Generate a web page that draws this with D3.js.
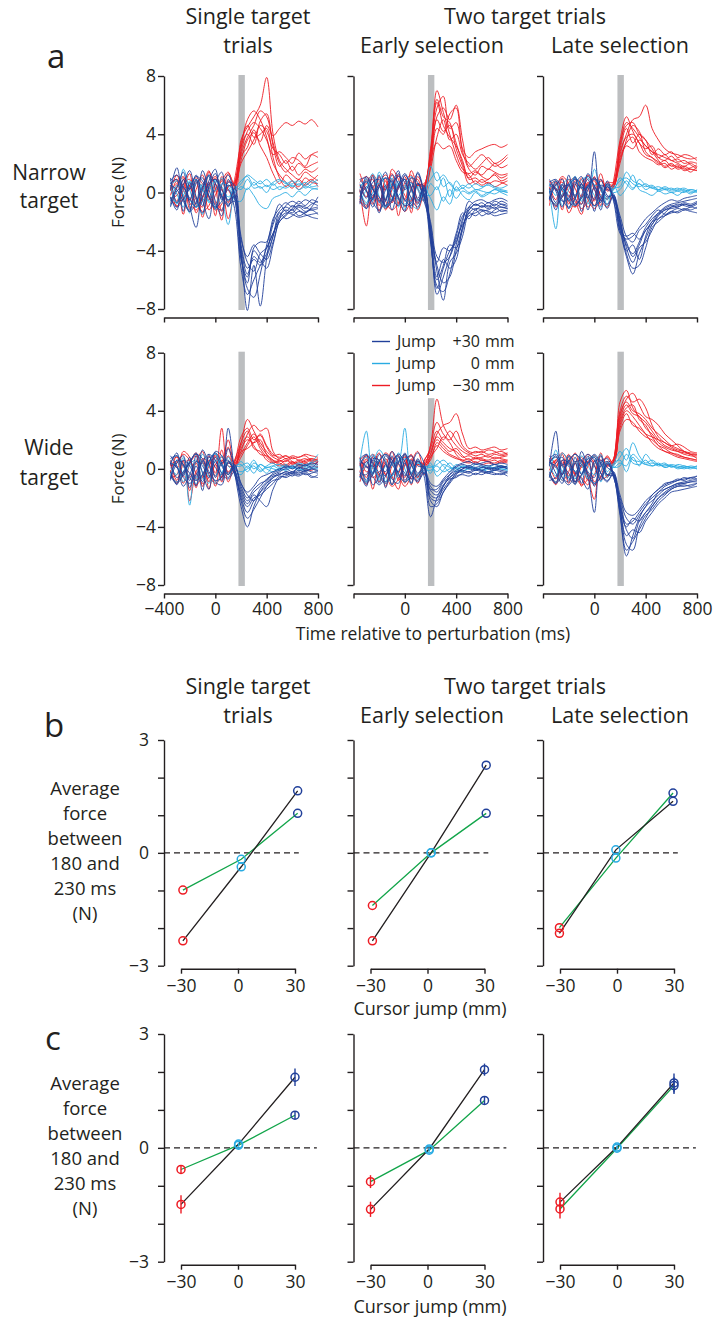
<!DOCTYPE html>
<html>
<head>
<meta charset="utf-8">
<script src="https://cdn.jsdelivr.net/npm/d3@7"></script>
<style>
  body { margin: 0; background: #fff; }
  svg text { font-family: "Open Sans", "Noto Sans", sans-serif; fill: #231f20; }
  .axis path, .axis line { stroke: #231f20; stroke-width: 1.4; }
  .axis text { font-family: "Open Sans", sans-serif; fill: #231f20; }
</style>
</head>
<body>
<svg id="fig" width="713" height="1326"></svg>
<script>
// ---- data: force traces (N), sampled every 50 ms ----
const timeMs = [-350,-300,-250,-200,-150,-100,-50,0,50,100,150,200,250,300,350,400,450,500,550,600,650,700,750,800];
const forceTicks = [-8, -4, 0, 4, 8];
const timeTicks = [-400, 0, 400, 800];
const gateWindow = [180, 230];
const gateTop = [8, 8, 8, 8, 4.8, 8];   // legend hides the top of one bar

// narrow target, single target trials
const nsMinus = [
  [0.3,-0.6,0.9,-1.1,0.2,1.2,-0.5,0.6,-1.3,0.4,0.6,3.6,4.5,5.2,6.0,7.9,4.0,2.2,1.6,1.2,0.9,1.4,1.1,0.8],
  [-0.2,0.8,-1.5,0.5,-0.9,0.3,1.5,-0.8,0.2,-1.8,0.5,2.8,4.2,4.8,4.4,3.6,2.6,2.8,2.4,2.0,2.7,2.3,2.6,2.4],
  [0.5,-1.0,0.2,1.3,-1.4,-0.3,0.7,-1.6,1.1,0.2,-0.4,3.0,5.0,5.6,5.0,3.8,2.0,1.2,0.7,0.3,0.9,0.5,0.8,1.2],
  [-0.8,0.4,1.1,-0.6,0.9,-1.7,0.2,1.0,-0.4,1.3,0.6,2.2,3.6,4.1,3.5,4.6,3.9,4.4,4.8,4.6,4.9,4.7,5.0,4.5],
  [0.1,1.2,-0.4,-1.3,0.7,0.4,-1.2,-0.2,0.9,-0.7,0.9,3.2,4.0,3.3,4.9,5.4,3.2,1.8,2.2,1.5,2.0,1.7,1.9,2.1],
  [-0.4,-0.2,0.6,0.9,-0.3,-1.0,1.4,0.3,-1.9,0.8,0.2,2.5,3.1,4.3,3.2,2.4,1.3,0.6,1.2,0.8,0.4,1.0,0.7,0.6],
  [0.6,0.9,0.2,-0.7,-1.2,-0.4,0.5,1.1,0.3,-0.6,0.3,2.6,3.8,4.6,5.6,5.2,3.4,2.0,1.4,1.8,1.2,1.6,1.4,1.7],
  [-0.3,-0.9,-0.4,0.5,1.0,0.6,-0.3,-1.2,-0.8,0.4,0.7,3.4,4.6,3.8,4.0,4.4,2.4,1.0,0.4,0.8,0.2,0.6,0.9,0.4],
  [0.2,0.6,1.0,0.4,-0.5,-1.3,-0.9,0.2,0.8,1.4,0.4,2.0,2.8,3.6,4.6,4.2,3.0,2.6,2.0,2.4,2.2,1.8,2.6,2.8]
];
const nsZero = [
  [0.4,-0.8,1.6,0.2,-1.0,0.6,-0.7,0.9,-0.3,-2.2,0.1,0.8,1.1,0.5,0.8,0.4,0.7,0.9,0.6,0.8,0.5,0.7,0.4,0.5],
  [-0.9,0.5,-0.2,-1.4,0.8,0.1,1.2,-1.2,0.6,0.4,-0.5,-0.6,0.3,-0.2,-0.9,-1.1,-0.4,-0.2,0.0,-0.3,0.1,-0.2,0.2,0.3],
  [0.7,-0.1,-1.0,0.8,-0.4,-1.5,0.3,0.1,1.0,-0.6,0.4,0.2,0.9,0.3,0.4,0.0,0.6,0.2,0.5,0.6,0.8,0.3,0.6,0.9],
  [0.5,0.8,0.1,-0.5,-1.0,-0.6,0.3,0.8,0.4,-0.3,0.2,0.6,1.2,0.9,0.6,0.9,0.5,0.8,0.7,0.4,0.6,0.5,0.8,0.6],
  [-0.3,-0.7,-0.2,0.6,0.9,0.2,-0.6,-1.0,-0.2,0.5,0.0,0.4,0.2,0.7,0.3,0.5,0.2,0.4,0.3,0.5,0.2,0.4,0.3,0.2]
];
const nsPlus = [
  [0.2,1.7,-0.4,-1.2,0.6,1.0,-0.3,-1.1,0.5,1.2,-0.4,-4.0,-8.1,-5.0,-7.8,-4.5,-2.2,-1.3,-1.0,-1.2,-0.9,-1.1,-0.8,-0.6],
  [-0.6,0.3,1.4,-0.9,-2.4,0.2,1.1,-0.6,-1.6,0.7,0.5,-3.8,-5.6,-4.4,-4.8,-3.8,-2.8,-1.8,-1.4,-1.5,-1.7,-1.6,-1.5,-1.4],
  [1.0,-0.7,0.5,1.5,-0.3,-1.4,0.4,1.3,-0.2,-0.8,-0.6,-4.2,-6.6,-7.2,-5.6,-3.6,-2.0,-0.8,-1.3,-0.9,-1.2,-1.4,-1.0,-0.3],
  [-0.3,-1.2,0.9,0.2,1.2,-0.5,-1.8,0.6,1.4,-1.0,0.3,-3.2,-4.4,-3.6,-4.2,-4.6,-3.4,-2.0,-1.6,-1.1,-0.9,-1.0,-1.2,-1.1],
  [0.6,0.9,-1.3,0.7,-0.8,1.5,0.2,-0.9,-1.2,0.9,-0.2,-4.6,-5.8,-3.8,-3.4,-3.4,-1.8,-1.1,-0.7,-1.0,-0.6,-0.9,-0.5,-0.7],
  [-1.0,0.1,0.4,-0.5,0.9,-0.9,0.8,1.6,-0.5,0.2,-1.1,-5.2,-7.0,-6.0,-5.0,-4.2,-3.0,-1.4,-1.8,-1.6,-1.3,-1.5,-1.7,-1.8],
  [0.5,0.2,-0.6,-1.3,-0.7,0.4,1.2,0.6,-0.3,-0.9,-0.2,-3.6,-5.2,-4.6,-5.0,-4.4,-3.0,-1.6,-1.2,-1.4,-1.0,-1.3,-1.1,-1.0],
  [-0.4,-1.0,-0.5,0.3,1.1,0.8,-0.2,-1.0,-0.6,0.5,0.0,-3.0,-4.8,-5.4,-4.2,-3.8,-2.8,-2.0,-1.5,-1.2,-1.6,-1.4,-1.2,-1.5],
  [0.8,1.2,0.4,-0.4,-1.0,-0.3,0.6,0.9,0.2,-0.5,-0.3,-4.4,-6.2,-4.0,-4.6,-5.2,-3.6,-1.8,-0.9,-0.6,-0.8,-0.5,-0.7,-0.9]
];

// narrow target, early selection
const neMinus = [
  [0.5,-0.3,1.2,-0.6,0.4,1.3,-0.8,0.7,1.2,-0.5,0.2,2.5,7.0,5.5,4.0,2.6,1.6,1.3,1.5,1.2,1.6,1.4,1.2,1.3],
  [-0.7,0.9,-0.4,1.1,-1.2,0.2,1.2,-1.0,0.3,0.9,-0.3,2.0,5.2,5.8,5.0,6.0,3.6,1.8,2.2,2.6,2.2,1.8,2.0,2.4],
  [0.2,-2.3,0.5,-0.9,1.0,-0.7,0.3,1.1,-1.4,0.5,0.6,2.8,6.2,4.6,3.8,3.2,2.2,0.9,1.0,0.7,0.9,1.2,0.8,1.0],
  [1.3,0.1,-0.8,0.6,0.2,0.9,-1.6,0.4,0.8,-1.2,0.1,1.8,4.4,4.0,5.4,5.8,3.0,2.4,2.8,3.0,3.2,3.3,3.1,3.3],
  [-0.4,0.6,0.9,-1.3,0.8,-0.3,0.5,-0.5,1.5,0.3,-0.6,2.2,3.4,3.0,3.2,2.2,1.4,1.2,0.6,0.9,0.6,0.8,0.7,0.5],
  [0.1,-0.9,0.3,0.8,-0.5,1.6,0.9,-0.2,-0.6,1.1,0.4,2.6,5.8,6.6,4.4,4.8,2.8,1.6,1.2,1.8,1.6,2.0,1.7,1.9],
  [0.7,1.1,0.3,-0.5,-1.1,-0.6,0.4,0.9,0.2,-0.7,0.3,2.4,5.0,4.2,4.6,3.4,2.0,1.0,1.4,1.1,0.9,1.3,1.0,1.2],
  [-0.5,-1.0,-0.3,0.6,1.2,0.5,-0.4,-1.3,-0.5,0.6,0.1,1.6,3.8,5.0,3.6,4.0,2.6,2.0,1.6,2.0,2.4,2.0,2.2,2.6],
  [0.3,0.7,1.2,0.5,-0.6,-1.2,-0.7,0.3,1.0,0.5,0.5,3.0,6.4,5.2,4.8,3.0,1.8,0.6,0.8,0.5,0.7,0.4,0.6,0.8]
];
const neZero = [
  [0.3,0.9,-0.6,1.4,0.4,-0.5,0.8,-1.2,0.6,0.3,-0.3,1.8,0.8,1.2,0.6,0.2,0.5,0.3,0.6,0.4,0.5,0.3,0.2,0.1],
  [-0.6,0.2,1.3,-0.3,-1.1,0.7,-0.2,0.5,-0.8,-1.1,0.3,-0.4,-1.2,-0.3,-0.8,0.4,-0.2,-0.5,0.0,-0.3,-0.1,0.2,0.0,-0.2],
  [0.1,-0.7,0.4,0.6,-0.4,1.0,-1.0,0.3,1.1,0.2,-0.6,0.6,0.2,1.0,-0.3,0.8,0.3,0.6,0.2,0.3,0.6,0.4,0.3,0.5],
  [0.4,0.7,0.2,-0.6,-1.0,-0.4,0.6,0.9,0.1,-0.5,0.1,0.9,1.4,0.4,0.7,0.1,0.3,0.0,0.2,0.1,0.0,0.2,0.1,0.0],
  [-0.5,-0.8,0.0,0.7,1.0,0.3,-0.5,-0.8,-0.4,0.4,-0.1,-0.2,0.4,-0.6,0.2,-0.4,0.1,-0.1,0.1,-0.2,0.0,-0.1,0.1,0.0]
];
const nePlus = [
  [-0.3,0.8,-0.5,1.2,-0.9,0.4,1.5,-0.6,0.2,1.3,-0.2,-2.8,-7.0,-5.8,-4.4,-3.0,-1.6,-1.2,-0.8,-1.0,-0.9,-1.1,-0.8,-0.9],
  [0.6,-0.4,1.1,-0.7,0.5,-1.2,0.3,0.9,-1.1,0.6,0.2,-2.4,-5.8,-4.6,-5.2,-4.6,-2.4,-1.4,-1.6,-1.3,-1.2,-1.0,-1.3,-1.2],
  [0.9,0.2,-1.0,0.4,1.4,-0.3,-0.9,1.2,0.4,-0.8,0.5,-3.0,-6.4,-6.8,-5.6,-3.6,-2.0,-0.6,-0.9,-0.7,-1.0,-0.6,-0.8,-1.0],
  [-0.8,1.1,0.3,-1.4,0.2,0.8,-0.4,-1.3,1.0,0.7,-0.6,-2.2,-4.8,-3.8,-4.0,-2.8,-1.4,-1.8,-1.2,-1.6,-1.4,-1.6,-1.5,-1.4],
  [0.2,-1.1,0.7,0.9,-0.6,1.2,0.6,-0.5,-0.9,1.4,0.0,-3.4,-6.0,-5.0,-3.6,-3.8,-2.6,-1.0,-0.6,-0.5,-0.7,-0.5,-0.4,-0.6],
  [-0.5,0.4,-0.2,0.5,-1.0,-0.6,1.3,0.2,0.7,-0.4,0.4,-2.6,-5.4,-7.4,-4.8,-4.2,-3.0,-1.4,-1.1,-1.2,-1.5,-1.2,-1.0,-1.1],
  [0.4,0.1,-0.7,-1.2,-0.5,0.5,1.1,0.7,-0.4,-1.0,-0.1,-3.2,-6.6,-5.2,-4.0,-3.4,-1.8,-1.0,-1.2,-0.9,-1.1,-0.8,-1.0,-1.1],
  [-0.6,-1.1,-0.4,0.4,1.0,0.7,-0.3,-0.9,-0.7,0.6,-0.3,-2.0,-4.4,-4.8,-4.4,-3.2,-2.2,-1.6,-1.4,-1.2,-1.3,-1.4,-1.2,-1.3],
  [0.9,1.0,0.2,-0.3,-0.9,-0.5,0.5,1.3,0.3,-0.6,0.3,-2.6,-5.0,-6.2,-5.8,-4.0,-2.4,-1.2,-0.8,-1.0,-0.7,-0.9,-0.6,-0.8]
];

// narrow target, late selection
const nlMinus = [
  [0.4,-0.5,1.0,-0.8,0.6,-0.3,0.7,-0.6,0.8,0.3,0.6,3.2,4.8,4.4,3.8,3.2,2.8,2.6,2.4,2.2,2.0,1.8,2.0,1.7],
  [-0.6,0.7,-0.3,0.4,-1.0,0.9,-0.4,1.1,-0.9,0.5,0.4,2.6,4.0,5.0,5.2,6.0,4.4,3.6,3.0,2.7,2.6,2.4,2.3,2.4],
  [0.2,0.3,-1.2,0.9,0.3,-0.8,1.2,0.2,-0.5,-1.0,0.8,3.6,5.2,4.2,3.4,3.0,3.2,2.4,2.2,2.5,2.1,2.2,1.9,1.6],
  [-0.2,-1.0,0.5,-0.3,0.8,0.4,-1.0,-0.4,1.3,0.1,0.5,2.4,3.4,3.8,2.8,2.4,2.2,1.9,2.0,1.6,1.8,1.5,1.6,1.5],
  [0.8,0.2,0.2,-1.4,-0.4,1.0,0.3,-0.9,0.2,0.7,0.7,3.0,4.4,3.4,4.0,3.6,2.6,3.0,2.6,2.8,2.4,2.6,2.5,2.2],
  [-0.9,0.6,0.7,0.1,-0.6,-1.5,0.5,0.8,-0.2,-0.4,0.3,2.0,3.6,4.6,4.2,2.8,2.4,2.1,1.7,1.9,1.6,1.7,1.4,1.8],
  [0.5,0.8,0.1,-0.6,-1.0,-0.3,0.6,1.0,0.2,-0.5,0.6,2.8,3.8,4.0,3.4,2.6,2.4,2.0,2.2,1.8,1.9,1.6,1.7,1.9],
  [-0.4,-0.8,-0.2,0.7,1.0,0.3,-0.5,-1.1,-0.4,0.6,0.5,3.4,4.6,4.8,4.0,3.6,3.0,2.4,2.6,2.2,2.3,2.0,2.1,2.0],
  [0.3,0.5,1.1,0.6,-0.4,-1.1,-0.6,0.4,0.9,0.2,0.4,2.2,3.2,3.0,3.6,3.2,2.8,2.2,1.8,2.0,1.7,1.8,1.6,1.5]
];
const nlZero = [
  [0.2,-2.5,0.5,0.9,-0.3,0.4,-0.8,1.6,0.2,-0.5,0.3,0.4,1.4,0.8,0.6,0.4,0.5,0.2,0.3,0.1,0.2,0.3,0.1,0.0],
  [-0.4,0.6,-0.9,0.2,1.1,-0.6,0.4,-0.2,-1.0,0.6,0.2,1.0,0.6,0.2,0.9,0.5,0.3,0.4,0.2,0.3,0.1,0.0,0.2,0.1],
  [0.6,-0.2,0.3,-1.1,-0.5,0.9,1.0,0.5,0.5,-0.9,0.5,-0.2,0.3,1.2,0.2,0.0,-0.2,0.1,-0.1,0.0,-0.2,0.1,-0.1,0.2],
  [0.4,0.8,0.2,-0.5,-0.9,-0.4,0.5,0.9,0.2,-0.4,0.2,0.8,1.0,0.6,0.4,0.6,0.3,0.2,0.4,0.2,0.3,0.1,0.2,0.1],
  [-0.4,-0.8,-0.1,0.6,1.0,0.4,-0.4,-0.9,-0.3,0.5,0.0,0.2,0.8,0.3,0.6,0.2,0.4,0.1,0.2,0.0,0.1,0.2,0.0,0.1]
];
const nlPlus = [
  [0.3,-0.7,0.6,-1.1,0.5,1.1,-0.4,2.8,-0.6,0.4,-0.3,-2.0,-3.6,-4.2,-3.4,-2.4,-1.8,-1.4,-1.0,-0.8,-0.7,-0.6,-0.5,-0.4],
  [-0.5,0.8,-0.3,0.6,-0.9,-0.2,1.3,0.3,-1.2,0.8,-0.5,-2.6,-4.4,-5.6,-4.2,-3.2,-2.2,-1.6,-1.2,-1.1,-1.0,-0.8,-0.9,-0.7],
  [0.9,0.1,-1.0,1.2,-0.4,-0.8,0.5,-0.5,0.9,-0.2,-0.4,-1.6,-3.0,-3.4,-2.6,-2.2,-1.6,-1.2,-1.5,-1.3,-1.4,-1.2,-1.3,-1.4],
  [-0.4,0.5,0.9,-0.6,1.1,-1.3,0.2,0.9,0.3,-1.1,-0.2,-2.2,-4.0,-3.6,-4.6,-3.0,-2.0,-1.8,-1.4,-1.0,-0.8,-0.9,-1.0,-0.8],
  [0.1,-1.2,0.3,0.5,-0.2,0.6,-1.2,0.4,-0.7,0.6,-0.6,-2.8,-3.2,-3.0,-2.4,-1.8,-1.4,-1.0,-0.7,-0.5,-0.6,-0.4,-0.3,-0.2],
  [0.6,0.3,-0.6,-0.4,0.7,0.3,0.9,-1.3,0.5,0.2,-0.1,-1.8,-3.8,-4.8,-3.8,-3.4,-2.6,-1.8,-1.6,-1.4,-1.3,-1.1,-1.2,-1.0],
  [0.5,0.2,-0.5,-1.0,-0.4,0.6,1.1,0.5,-0.3,-0.8,-0.3,-2.4,-3.4,-4.4,-3.6,-2.6,-2.2,-1.5,-1.2,-1.0,-0.9,-0.7,-0.8,-0.6],
  [-0.3,-0.9,-0.3,0.5,0.9,0.6,-0.2,-0.9,-0.5,0.4,-0.4,-2.0,-4.2,-5.2,-5.0,-3.8,-2.4,-2.0,-1.6,-1.3,-1.1,-1.2,-1.0,-1.1],
  [0.7,0.9,0.3,-0.2,-0.8,-0.4,0.4,1.0,0.4,-0.3,-0.2,-2.6,-3.0,-2.8,-3.2,-2.6,-2.0,-1.4,-1.1,-0.9,-1.0,-0.8,-0.9,-0.7]
];

// wide target, single target trials
const wsMinus = [
  [0.4,-0.8,0.6,-1.5,0.4,-0.6,0.9,-0.3,2.8,-0.4,0.6,1.8,3.4,2.6,1.8,1.2,0.8,0.6,0.5,0.8,0.6,0.7,0.5,0.6],
  [-0.3,0.9,-1.0,0.3,1.1,-1.2,0.2,0.8,-0.9,0.4,0.2,1.2,2.4,3.0,2.6,2.8,1.2,0.7,0.9,0.5,0.4,0.6,0.7,0.5],
  [0.6,0.1,0.5,-2.2,-0.2,0.4,-0.9,1.0,0.3,1.5,-0.3,1.6,2.2,1.6,1.0,0.9,0.5,0.4,0.2,0.4,0.3,0.2,0.4,0.3],
  [-0.6,-0.4,1.2,0.8,-1.3,0.7,0.4,-1.2,0.6,-0.2,0.5,2.2,2.8,2.0,2.3,1.5,0.9,1.0,0.7,0.9,0.8,1.0,0.9,0.8],
  [0.2,0.5,-0.5,-0.6,0.5,1.2,-1.4,0.3,-0.6,0.9,0.1,0.8,1.6,2.2,1.4,0.8,0.4,0.2,0.3,0.1,0.2,0.0,-0.1,0.2],
  [-0.1,-1.0,0.3,0.6,-0.7,-0.4,0.6,-0.5,1.3,-0.9,0.4,1.4,2.0,1.8,2.0,1.0,0.6,0.3,0.6,0.3,0.5,0.4,0.6,0.4],
  [0.5,0.8,0.2,-0.6,-1.1,-0.5,0.4,0.9,0.5,2.0,0.4,1.0,1.8,2.4,1.6,1.0,0.6,0.5,0.7,0.4,0.6,0.5,0.7,0.6],
  [-0.4,-0.9,-0.3,0.4,0.9,0.5,-0.4,-1.0,-0.5,0.5,0.3,1.8,2.6,1.4,1.2,0.6,0.4,0.6,0.3,0.5,0.2,0.4,0.3,0.5],
  [0.2,0.4,1.0,0.6,-0.3,-1.0,-0.6,0.3,0.8,0.2,0.2,1.2,1.4,1.8,2.4,1.6,1.0,0.8,0.9,0.7,0.8,0.9,0.6,0.7]
];
const wsZero = [
  [0.1,-0.4,0.8,-2.5,0.5,-0.2,-1.0,0.6,0.3,-0.4,0.2,0.3,-0.2,0.4,0.1,-0.3,0.2,0.3,0.1,0.2,0.4,0.3,0.5,1.0],
  [-0.5,0.6,-0.3,0.4,-0.8,1.0,0.2,-0.5,0.9,0.2,-0.2,-0.4,0.2,-0.3,0.3,0.0,-0.2,0.0,-0.1,0.1,0.0,-0.1,0.0,0.1],
  [0.4,0.2,-0.9,0.3,0.6,-0.7,0.4,1.1,-0.3,0.8,0.1,0.5,0.1,0.6,-0.1,0.2,0.4,0.1,0.3,0.0,0.2,0.1,0.3,0.2],
  [0.5,0.9,0.2,-0.6,-1.0,-0.4,0.5,1.0,0.3,-0.4,0.1,0.2,0.4,0.0,0.3,0.1,0.2,0.0,0.2,0.1,0.3,0.2,0.4,0.6],
  [-0.4,-0.9,-0.2,0.5,1.0,0.4,-0.5,-1.0,-0.3,0.5,0.0,-0.2,0.0,0.2,-0.2,0.1,0.0,-0.1,0.0,0.1,-0.1,0.0,0.1,0.0]
];
const wsPlus = [
  [0.3,1.1,-0.5,0.8,-1.2,0.6,-0.3,0.5,-0.8,2.8,-0.2,-2.6,-4.0,-2.6,-1.6,-1.0,-0.6,-0.4,-0.2,-0.3,0.1,-0.1,0.0,-0.2],
  [-0.7,0.4,0.9,-1.3,0.2,-0.9,1.0,-0.6,0.4,0.6,-0.3,-1.6,-2.4,-1.8,-2.2,-2.6,-1.4,-0.6,-0.5,-0.3,-0.4,-0.2,-0.5,-0.6],
  [0.5,-0.6,-0.2,0.4,1.1,-0.3,-1.4,0.8,0.2,-0.6,0.1,-1.2,-2.0,-1.4,-1.0,-0.8,-0.3,-0.1,0.2,0.0,0.3,0.2,0.4,0.3],
  [-0.2,-1.1,0.6,0.2,-0.6,1.3,0.3,-0.9,-1.1,0.5,-0.4,-2.0,-3.0,-2.2,-1.6,-1.2,-0.8,-0.7,-0.3,-0.5,-0.2,-0.4,-0.3,-0.1],
  [0.9,0.2,-1.2,-0.4,0.5,0.2,-0.6,1.2,0.9,-0.3,0.3,-1.0,-1.6,-1.2,-0.6,-0.4,-0.2,0.0,0.1,0.2,0.0,0.3,0.1,0.5],
  [-0.8,0.6,0.3,-0.8,0.9,-1.5,0.8,0.1,-0.4,1.4,0.0,-1.8,-2.6,-2.0,-1.8,-1.4,-1.0,-0.5,-0.6,-0.4,-0.5,-0.3,-0.6,-0.4],
  [0.4,0.1,-0.6,-1.0,-0.4,0.5,1.0,0.6,-0.3,-0.7,-0.2,-1.4,-2.2,-1.6,-1.2,-0.7,-0.4,-0.2,0.0,-0.2,0.1,0.0,0.2,0.1],
  [-0.5,-1.0,-0.4,0.5,1.0,0.7,-0.2,-0.8,-0.6,0.4,-0.1,-2.2,-3.4,-2.8,-2.0,-1.2,-0.6,-0.3,-0.4,-0.2,-0.3,-0.1,-0.2,-0.3],
  [0.7,0.9,0.3,-0.3,-0.8,-0.4,0.5,1.1,0.4,-0.4,0.2,-1.0,-1.8,-2.2,-1.4,-0.9,-0.5,-0.4,-0.2,-0.3,-0.1,-0.2,0.0,-0.1]
];

// wide target, early selection
const weMinus = [
  [0.3,-0.6,0.8,-0.9,0.5,-1.1,0.4,0.9,-0.7,0.5,0.3,1.6,4.8,3.0,2.2,1.6,1.2,1.0,1.2,1.1,1.3,1.2,1.0,1.1],
  [-0.5,0.7,-1.4,0.4,-0.4,0.8,-0.8,0.2,1.0,-0.6,0.6,1.2,2.4,3.0,3.2,3.8,2.4,1.4,1.5,1.3,1.4,1.5,1.3,1.4],
  [0.8,-0.2,0.3,1.1,-1.2,0.2,0.9,-1.0,0.4,1.2,0.0,1.0,2.0,1.6,1.2,1.4,0.9,0.6,0.8,0.7,0.6,0.8,0.7,0.6],
  [-0.2,0.9,0.5,-0.4,0.7,-0.5,-1.4,0.6,-0.3,0.6,-0.4,0.8,1.4,2.2,1.8,1.0,0.6,0.7,0.4,0.6,0.5,0.4,0.6,0.5],
  [0.5,-1.1,0.1,0.6,1.0,0.4,0.3,-0.6,0.7,-1.0,0.5,1.4,2.6,2.0,2.6,2.0,1.4,1.1,0.9,1.0,0.8,1.0,0.9,1.0],
  [-0.9,0.2,-0.6,-0.2,0.3,1.2,-0.3,1.0,-1.1,0.3,0.2,0.6,1.8,1.4,1.0,0.8,0.5,0.4,0.5,0.3,0.4,0.3,0.5,0.4],
  [0.6,0.9,0.3,-0.5,-1.0,-0.5,0.4,0.8,0.3,-0.6,0.4,1.0,2.2,1.8,1.4,1.2,0.8,0.9,0.7,0.8,0.9,0.7,0.8,0.9],
  [-0.4,-0.9,-0.3,0.5,1.1,0.6,-0.4,-1.2,-0.5,0.5,0.2,1.6,3.2,2.4,2.0,2.6,1.6,1.2,1.1,1.2,1.0,1.1,1.2,1.0],
  [0.3,0.5,1.0,0.5,-0.4,-1.2,-0.7,0.3,0.9,0.3,0.3,0.8,1.6,1.2,0.9,0.7,0.6,0.5,0.7,0.6,0.5,0.6,0.4,0.6]
];
const weZero = [
  [0.5,2.6,-0.4,0.6,-0.9,0.3,0.5,2.8,-0.3,0.4,0.2,-0.3,0.6,0.2,-0.2,0.3,0.1,0.2,0.0,0.1,0.2,0.0,0.1,0.2],
  [-0.4,0.3,1.0,-0.8,0.2,-0.5,1.1,0.0,-1.0,0.6,-0.3,0.4,-0.5,-0.1,0.4,0.0,-0.2,0.1,-0.1,0.0,-0.2,-0.1,0.0,-0.1],
  [0.2,-0.9,0.3,1.3,0.6,-1.1,-0.2,0.7,0.5,-0.7,0.1,0.1,0.3,0.6,0.2,-0.2,0.2,0.0,0.3,0.2,0.1,0.3,0.2,0.0],
  [0.4,0.8,0.1,-0.6,-1.0,-0.5,0.4,0.9,0.3,-0.4,0.1,0.2,-0.2,0.3,0.1,0.0,0.2,0.1,0.0,0.1,0.0,0.1,0.2,0.1],
  [-0.5,-0.9,-0.2,0.6,1.0,0.4,-0.4,-0.9,-0.3,0.4,0.0,-0.1,0.2,-0.2,0.0,0.1,-0.1,0.0,0.1,-0.1,0.0,0.1,0.0,-0.1]
];
const wePlus = [
  [0.4,-0.8,0.6,0.2,-0.5,0.9,-0.6,0.4,-1.0,0.7,-0.5,-3.3,-2.0,-1.2,-0.4,0.1,0.3,0.2,0.4,0.3,0.2,0.3,0.1,0.2],
  [-0.6,0.5,-0.3,1.0,0.4,-1.1,0.8,-0.5,0.6,-0.3,0.2,-1.8,-2.0,-1.4,-0.8,-0.4,0.0,0.1,0.0,-0.1,0.1,0.0,0.2,0.1],
  [0.2,1.0,-1.1,-0.5,0.9,0.3,-0.2,1.1,-0.4,-0.9,-0.3,-1.2,-1.6,-0.9,-0.6,-0.3,-0.2,-0.3,-0.1,-0.2,-0.3,-0.1,-0.2,-0.3],
  [-0.3,-0.4,0.7,0.6,-1.3,0.5,0.9,-0.8,0.2,1.1,0.4,-2.2,-2.6,-1.6,-1.0,-0.5,-0.4,-0.5,-0.3,-0.4,-0.2,-0.3,-0.4,-0.2],
  [0.7,0.1,0.2,-1.0,0.3,-0.7,-1.0,0.6,0.9,0.2,0.1,-1.0,-1.2,-0.7,-0.2,0.2,0.4,0.5,0.3,0.4,0.5,0.3,0.4,0.3],
  [-0.2,-1.2,0.9,0.3,-0.2,1.2,0.4,-0.3,-0.7,-0.4,0.0,-1.5,-1.8,-1.1,-0.7,-0.6,-0.3,-0.2,-0.4,-0.2,-0.3,-0.4,-0.3,-0.5],
  [0.5,0.2,-0.5,-1.1,-0.5,0.4,1.0,0.5,-0.4,-0.8,-0.2,-2.6,-2.4,-1.6,-0.9,-0.3,0.0,0.2,0.1,0.2,0.0,0.1,0.2,0.0],
  [-0.5,-1.0,-0.4,0.5,1.0,0.6,-0.3,-0.9,-0.5,0.5,0.1,-1.4,-1.4,-0.8,-0.4,-0.1,0.1,0.0,-0.1,0.1,0.0,-0.1,0.1,0.0],
  [0.7,1.0,0.4,-0.3,-0.9,-0.4,0.5,1.0,0.3,-0.5,-0.1,-2.0,-2.2,-1.2,-0.6,-0.2,-0.1,-0.2,0.0,-0.1,-0.2,0.0,-0.1,-0.2]
];

// wide target, late selection
const wlMinus = [
  [0.3,-0.7,0.6,-1.0,0.4,0.8,-0.5,-2.1,0.6,0.3,0.7,4.6,5.4,4.2,3.6,3.2,2.6,2.0,1.6,1.4,1.2,1.0,0.9,0.8],
  [-0.6,0.5,-0.4,0.8,-0.9,0.2,1.0,0.3,-0.7,-0.5,0.5,3.6,4.8,5.2,4.4,3.6,3.4,3.0,2.4,2.0,1.6,1.2,1.0,0.9],
  [0.6,0.1,1.0,-0.5,0.5,-1.2,0.2,0.9,0.4,0.8,0.4,3.0,4.0,3.6,3.0,2.4,1.8,1.4,1.2,1.0,0.8,0.7,0.6,0.5],
  [-0.3,-1.1,0.4,0.3,-0.4,0.6,-0.8,-0.4,1.1,-0.6,0.6,4.0,5.0,4.6,4.8,4.2,3.0,2.2,1.8,1.6,1.7,1.5,1.2,1.1],
  [0.9,0.3,-0.8,-0.2,1.1,0.1,0.5,-0.9,-0.2,0.9,0.3,2.6,3.4,3.2,2.6,2.2,2.0,1.6,1.4,1.1,1.0,0.8,0.7,0.6],
  [-0.1,0.6,0.2,1.0,-0.3,-0.6,-1.1,0.6,-0.6,0.2,0.5,3.4,4.4,3.8,3.6,2.8,2.4,1.8,1.5,1.3,1.2,1.1,1.0,0.7],
  [0.5,0.8,0.2,-0.6,-1.0,-0.4,0.5,0.9,0.3,-0.5,0.6,3.8,4.6,4.0,3.8,3.4,2.8,2.4,2.0,1.6,1.4,1.2,1.1,1.0],
  [-0.4,-0.9,-0.3,0.6,1.0,0.5,-0.4,-1.1,-0.5,0.5,0.5,3.2,4.2,4.4,3.4,3.0,2.2,1.6,1.2,1.1,0.9,0.8,0.7,0.6],
  [0.3,0.6,1.1,0.5,-0.4,-1.1,-0.7,0.3,0.9,0.2,0.4,2.8,3.8,3.0,2.8,2.4,2.2,2.0,1.8,1.5,1.3,1.2,1.0,1.0]
];
const wlZero = [
  [0.3,-0.5,1.1,0.4,-0.7,0.9,0.2,-0.4,0.5,-0.6,0.3,1.2,0.6,1.8,0.9,0.4,0.6,0.3,0.2,0.3,0.2,0.1,0.2,0.1],
  [-0.6,1.3,-0.2,-0.6,0.5,-0.3,0.7,0.8,-0.9,0.4,0.1,0.2,1.0,0.4,0.3,0.6,0.2,0.4,0.1,0.2,0.0,0.1,0.0,0.2],
  [0.5,0.1,-0.8,0.9,-0.2,0.2,-0.7,0.3,1.0,-0.2,0.4,0.6,-0.2,0.8,0.2,1.0,0.5,0.3,0.4,0.1,0.3,0.2,0.1,0.0],
  [0.4,0.8,0.2,-0.6,-1.0,-0.5,0.4,0.9,0.3,-0.4,0.2,0.8,1.4,0.6,0.5,0.3,0.4,0.2,0.3,0.2,0.1,0.2,0.1,0.2],
  [-0.4,-0.9,-0.2,0.5,1.0,0.4,-0.5,-1.0,-0.2,0.5,0.1,0.4,0.2,1.0,0.6,0.3,0.2,0.3,0.1,0.2,0.1,0.0,0.1,0.0]
];
const wlPlus = [
  [0.2,2.6,-0.4,0.6,-0.9,0.3,-0.6,-3.0,0.4,0.7,-0.4,-3.2,-6.0,-4.6,-3.4,-2.6,-2.2,-1.8,-1.4,-1.2,-1.0,-0.9,-0.8,-0.7],
  [-0.5,0.4,0.8,-0.8,0.4,-1.0,0.7,0.2,-0.8,0.3,-0.3,-2.6,-5.2,-5.6,-4.0,-3.2,-2.8,-2.2,-1.8,-1.4,-1.2,-1.1,-1.2,-1.0],
  [0.7,-0.3,-1.0,0.9,0.5,0.6,-0.2,-0.6,0.9,-0.4,-0.5,-2.2,-3.8,-3.6,-3.0,-2.4,-2.0,-1.6,-1.2,-1.0,-0.8,-0.7,-0.6,-0.5],
  [-0.8,-0.6,0.3,0.2,-1.1,1.2,0.4,0.8,-0.3,-0.9,-0.2,-2.8,-4.6,-4.2,-4.4,-3.6,-3.0,-2.4,-2.0,-1.6,-1.5,-1.4,-1.3,-1.2],
  [0.4,0.9,-0.6,-0.9,0.8,-0.4,0.9,-1.2,0.2,0.5,-0.6,-2.0,-3.4,-3.8,-3.2,-2.6,-1.8,-1.4,-1.0,-0.9,-0.7,-0.8,-0.6,-0.7],
  [-0.2,-1.0,0.6,0.4,-0.2,-0.7,-1.4,0.5,0.6,0.1,-0.3,-2.4,-4.2,-4.8,-3.6,-3.0,-2.4,-1.6,-1.4,-1.2,-1.0,-1.0,-0.9,-0.8],
  [0.4,0.2,-0.6,-1.1,-0.4,0.5,1.0,0.6,-0.3,-0.8,-0.4,-2.6,-4.0,-3.4,-3.6,-3.0,-2.6,-2.0,-1.6,-1.3,-1.1,-1.0,-0.9,-0.9],
  [-0.5,-1.0,-0.4,0.5,1.0,0.6,-0.3,-1.0,-0.6,0.4,-0.5,-3.0,-5.6,-5.0,-4.2,-3.4,-2.6,-2.0,-1.7,-1.4,-1.2,-1.2,-1.1,-1.0],
  [0.7,1.0,0.3,-0.3,-0.9,-0.4,0.4,1.0,0.4,-0.4,-0.3,-1.8,-3.0,-3.2,-2.8,-2.2,-1.8,-1.4,-1.1,-0.9,-0.8,-0.6,-0.7,-0.5]
];

// ---- data: average force 180-230 ms (N) vs cursor jump (mm) ----
const jumpTicks = [-30, 0, 30];
const avgTicks = [-3, -2, -1, 0, 1, 2, 3];
const avgLabelled = [-3, 0, 3];
const bJump   = [[-29, 1.7, 31.4], [-29, 1.9, 30.9], [-30.3, -0.6, 29.5]];
const bNarrow = [[-2.34, -0.37, 1.65], [-2.34, 0.0, 2.33], [-2.14, 0.08, 1.37]];
const bWide   = [[-0.99, -0.17, 1.05], [-1.40, 0.0, 1.05], [-1.99, -0.14, 1.59]];
const cJump   = [[-30, 0.3, 30], [-30, 0.9, 30], [-30, 0, 30]];
const cNarrow = [[-1.49, 0.10, 1.86], [-1.62, -0.03, 2.06], [-1.43, 0.02, 1.71]];
const cNarrowErr = [[0.24, 0.04, 0.23], [0.20, 0.04, 0.16], [0.25, 0.04, 0.25]];
const cWide   = [[-0.57, 0.07, 0.86], [-0.89, -0.06, 1.25], [-1.61, -0.01, 1.64]];
const cWideErr = [[0.10, 0.04, 0.10], [0.17, 0.04, 0.10], [0.25, 0.04, 0.22]];
const zeroLineEnd = [32, 41.5];  // mm, dashed zero line end in b and c

const legendJump = ["+30", "0", "\u221230"];

// ---- layout ----
const svg = d3.select("#fig");
const ink = "#231f20";
const col = { plus: "#21409a", zero: "#29abe2", minus: "#ed1c24" };
const jumpColor = [col.minus, col.zero, col.plus];
const colLeft = [164, 353.5, 543];
const wA = 154;
const rowA = [[76, 309], [352.7, 585]];

function txt(x, y, s, size, anchor, extra) {
  const t = svg.append("text").attr("x", x).attr("y", y).text(s)
    .style("font-size", size + "px").attr("text-anchor", anchor || "middle");
  if (extra) extra(t);
  return t;
}

// headers
[24, 694].forEach(y0 => {
  txt(248, y0, "Single target", 21.5);
  txt(248, y0 + 29, "trials", 21.5);
  txt(525, y0, "Two target trials", 21.5);
  txt(432, y0 + 29, "Early selection", 21.5);
  txt(620, y0 + 29, "Late selection", 21.5);
});
txt(47, 68, "a", 33, "start");
txt(44, 737, "b", 33, "start");
txt(45, 1050, "c", 33, "start");
txt(49, 180, "Narrow", 21);
txt(49, 208, "target", 21);
txt(49, 455, "Wide", 21);
txt(49, 485, "target", 21);

// ---- panel a: force traces ----
const tracePanels = [
  [nsMinus, nsZero, nsPlus], [neMinus, neZero, nePlus], [nlMinus, nlZero, nlPlus],
  [wsMinus, wsZero, wsPlus], [weMinus, weZero, wePlus], [wlMinus, wlZero, wlPlus]
];

tracePanels.forEach((sets, k) => {
  const r = Math.floor(k / 3), c = k % 3;
  const x = d3.scaleLinear().domain([-400, 800]).range([colLeft[c], colLeft[c] + wA]);
  const y = d3.scaleLinear().domain([-8, 8]).range([rowA[r][1], rowA[r][0]]);
  const g = svg.append("g");

  g.append("rect")
    .attr("x", x(gateWindow[0])).attr("width", x(gateWindow[1]) - x(gateWindow[0]))
    .attr("y", y(gateTop[k]) - 1).attr("height", y(-8) - y(gateTop[k]) + 2)
    .attr("fill", "#bcbec0");

  const line = d3.line()
    .x((d, i) => x(timeMs[i])).y(d => y(d))
    .curve(d3.curveCatmullRom.alpha(0.5));

  [[sets[0], col.minus], [sets[1], col.zero], [sets[2], col.plus]].forEach(([tr, color]) => {
    g.selectAll(null).data(tr).enter().append("path")
      .attr("d", line).attr("fill", "none")
      .attr("stroke", color).attr("stroke-width", 0.9);
  });

  const ya = g.append("g").attr("class", "axis")
    .attr("transform", `translate(${colLeft[c]},0)`)
    .call(d3.axisLeft(y).tickValues(forceTicks).tickSize(6).tickSizeOuter(0).tickPadding(2)
      .tickFormat(c === 0 ? d3.format("d") : () => ""));
  ya.selectAll("text").style("font-size", "17.5px");

  const xa = g.append("g").attr("class", "axis")
    .attr("transform", `translate(0,${y(-8) + 8.5})`)
    .call(d3.axisBottom(x).tickValues(timeTicks).tickSize(5).tickSizeOuter(0).tickPadding(4)
      .tickFormat(d => (r === 0 || (c > 0 && d === -400)) ? "" : d3.format("d")(d)));
  xa.selectAll("text").style("font-size", "17.5px");

  if (c === 0) {
    txt(0, 0, "Force (N)", 17, "middle", t => t.attr("transform", `translate(124,${y(0)}) rotate(-90)`));
  }
});
txt(433, 640, "Time relative to perturbation (ms)", 17.5);

// legend: one text per row, value right-aligned so the digits line up
legendJump.forEach((lab, i) => {
  const yy = 341.5 + i * 22;
  const color = [col.plus, col.zero, col.minus][i];
  svg.append("line").attr("x1", 372).attr("x2", 390).attr("y1", yy).attr("y2", yy)
    .attr("stroke", color).attr("stroke-width", 1.4);
  const t = svg.append("text").attr("y", yy + 5.5).style("font-size", "16px");
  t.append("tspan").attr("x", 397).text("Jump");
  t.append("tspan").attr("x", 480).attr("text-anchor", "end").text(lab);
  t.append("tspan").attr("x", 485).text("mm");
});

// ---- panels b, c: average force ----
const rowsBC = [
  { top: 740, bottom: 965.7, jump: bJump, narrow: bNarrow, wide: bWide, nErr: null, wErr: null, zEnd: zeroLineEnd[0], labelY: 795 },
  { top: 1034, bottom: 1261.7, jump: cJump, narrow: cNarrow, wide: cWide, nErr: cNarrowErr, wErr: cWideErr, zEnd: zeroLineEnd[1], labelY: 1090 }
];
const avgLabel = ["Average", "force", "between", "180 and", "230 ms", "(N)"];

rowsBC.forEach(row => {
  avgLabel.forEach((s, i) => txt(85, row.labelY + i * 24.9, s, 18.5));
  for (let c = 0; c < 3; c++) {
    const x = d3.scaleLinear().domain([-30, 30]).range([colLeft[c] + 17, colLeft[c] + 131]);
    const y = d3.scaleLinear().domain([-3, 3]).range([row.bottom, row.top]);
    const g = svg.append("g");

    g.append("line")
      .attr("x1", colLeft[c]).attr("x2", x(row.zEnd))
      .attr("y1", y(0)).attr("y2", y(0))
      .attr("stroke", ink).attr("stroke-width", 1.2).attr("stroke-dasharray", "6,4");

    const ya = g.append("g").attr("class", "axis")
      .attr("transform", `translate(${colLeft[c]},0)`)
      .call(d3.axisLeft(y).tickValues(avgTicks).tickSize(6).tickSizeOuter(0).tickPadding(9)
        .tickFormat(d => (c === 0 && avgLabelled.includes(d)) ? d3.format("d")(d) : ""));
    ya.selectAll("text").style("font-size", "17.5px");

    const xa = g.append("g").attr("class", "axis")
      .attr("transform", `translate(0,${row.bottom + 3})`)
      .call(d3.axisBottom(x).tickValues(jumpTicks).tickSize(5).tickSizeOuter(0).tickPadding(6)
        .tickFormat(d3.format("d")));
    xa.selectAll("text").style("font-size", "17.5px");

    const series = [
      { v: row.wide[c], err: row.wErr && row.wErr[c], line: "#12a54a" },
      { v: row.narrow[c], err: row.nErr && row.nErr[c], line: ink }
    ];
    const jx = row.jump[c];
    series.forEach(s => {
      g.append("path")
        .attr("d", d3.line().x((d, i) => x(jx[i])).y(d => y(d))(s.v))
        .attr("fill", "none").attr("stroke", s.line).attr("stroke-width", 1.3);
    });
    series.forEach(s => {
      s.v.forEach((v, i) => {
        if (s.err) {
          g.append("line").attr("x1", x(jx[i])).attr("x2", x(jx[i]))
            .attr("y1", y(v + s.err[i])).attr("y2", y(v - s.err[i]))
            .attr("stroke", jumpColor[i]).attr("stroke-width", 1.4);
        }
        g.append("circle").attr("cx", x(jx[i])).attr("cy", y(v)).attr("r", 4)
          .attr("fill", "none").attr("stroke", jumpColor[i]).attr("stroke-width", 1.5);
      });
    });
  }
});
txt(430, 1015, "Cursor jump (mm)", 18);
txt(430, 1313, "Cursor jump (mm)", 18);
</script>
</body>
</html>
